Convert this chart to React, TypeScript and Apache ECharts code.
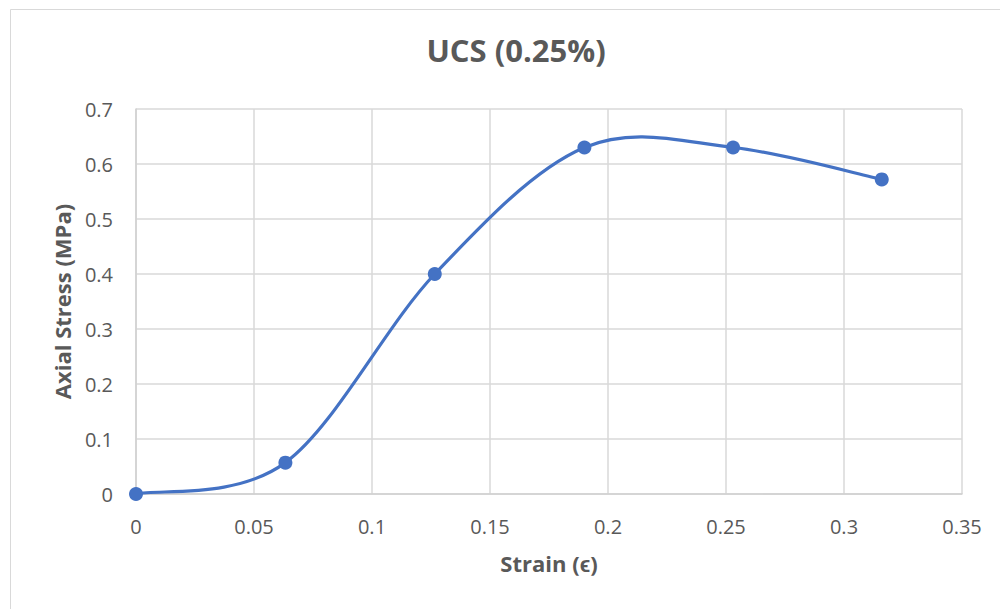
import React, { useEffect, useRef } from "react";
import * as echarts from "echarts";

const strain = [0, 0.0633, 0.1266, 0.19, 0.253, 0.316];
const stress = [0, 0.057, 0.4, 0.63, 0.63, 0.572];
const titleText = "UCS (0.25%)";
const xName = "Strain (ϵ)";
const yName = "Axial Stress (MPa)";

const points = strain.map((x, i) => [x, stress[i]]);

export default function App() {
  const ref = useRef<HTMLDivElement>(null);
  useEffect(() => {
    if (!ref.current) return;
    const chart = echarts.init(ref.current, null, { renderer: "svg" });
    const textColor = "#595959";
    const font = "'Open Sans', sans-serif";
    chart.setOption({
      animation: false,
      backgroundColor: "#fff",
      title: {
        text: titleText,
        left: 511,
        textAlign: "center",
        top: 29,
        textStyle: { fontFamily: font, fontSize: 31, fontWeight: "bold", color: textColor },
      },
      graphic: [
        {
          type: "rect",
          shape: { x: 10.5, y: 9.5, width: 1000, height: 700 },
          style: { fill: "none", stroke: "#d9d9d9", lineWidth: 1 },
          silent: true,
        },
      ],
      grid: { left: 136, right: 38, top: 109, bottom: 115 },
      xAxis: {
        type: "value",
        min: 0,
        max: 0.35,
        interval: 0.05,
        name: xName,
        nameLocation: "middle",
        nameGap: 58,
        nameTextStyle: { fontFamily: font, fontSize: 22, fontWeight: "bold", color: textColor },
        axisLine: { show: true, lineStyle: { color: "#d0d0d0", width: 1.5 } },
        axisTick: { show: false },
        axisLabel: { fontFamily: font, fontSize: 20, color: textColor, margin: 22 },
        splitLine: { show: true, lineStyle: { color: "#d9d9d9", width: 1.5 } },
      },
      yAxis: {
        type: "value",
        min: 0,
        max: 0.7,
        interval: 0.1,
        name: yName,
        nameLocation: "middle",
        nameGap: 63,
        nameTextStyle: { fontFamily: font, fontSize: 22, fontWeight: "bold", color: textColor },
        axisLine: { show: true, lineStyle: { color: "#d0d0d0", width: 1.5 } },
        axisTick: { show: false },
        axisLabel: { fontFamily: font, fontSize: 20, color: textColor, margin: 23 },
        splitLine: { show: true, lineStyle: { color: "#d9d9d9", width: 1.5 } },
      },
      series: [
        {
          type: "custom",
          data: points,
          clip: false,
          renderItem: (params: any, api: any) => {
            if (params.dataIndex !== 0) return null;
            const p = points.map((pt) => api.coord(pt));
            let d = `M${p[0][0]},${p[0][1]}`;
            for (let i = 0; i < p.length - 1; i++) {
              const p0 = p[i - 1] || p[i];
              const p1 = p[i];
              const p2 = p[i + 1];
              const p3 = p[i + 2] || p[i + 1];
              const c1x = p1[0] + (p2[0] - p0[0]) / 6;
              const c1y = p1[1] + (p2[1] - p0[1]) / 6;
              const c2x = p2[0] - (p3[0] - p1[0]) / 6;
              const c2y = p2[1] - (p3[1] - p1[1]) / 6;
              d += ` C${c1x},${c1y} ${c2x},${c2y} ${p2[0]},${p2[1]}`;
            }
            return {
              type: "path",
              shape: { pathData: d },
              style: { fill: "none", stroke: "#4472C4", lineWidth: 3.2, lineCap: "round", lineJoin: "round" },
            };
          },
          z: 2,
        },
        {
          type: "scatter",
          data: points,
          symbol: "circle",
          symbolSize: 14,
          itemStyle: { color: "#4472C4", opacity: 1 },
          z: 3,
        },
      ],
    });
    return () => chart.dispose();
  }, []);
  return <div ref={ref} style={{ width: 1000, height: 609, position: "absolute", left: 0, top: 0 }} />;
}
